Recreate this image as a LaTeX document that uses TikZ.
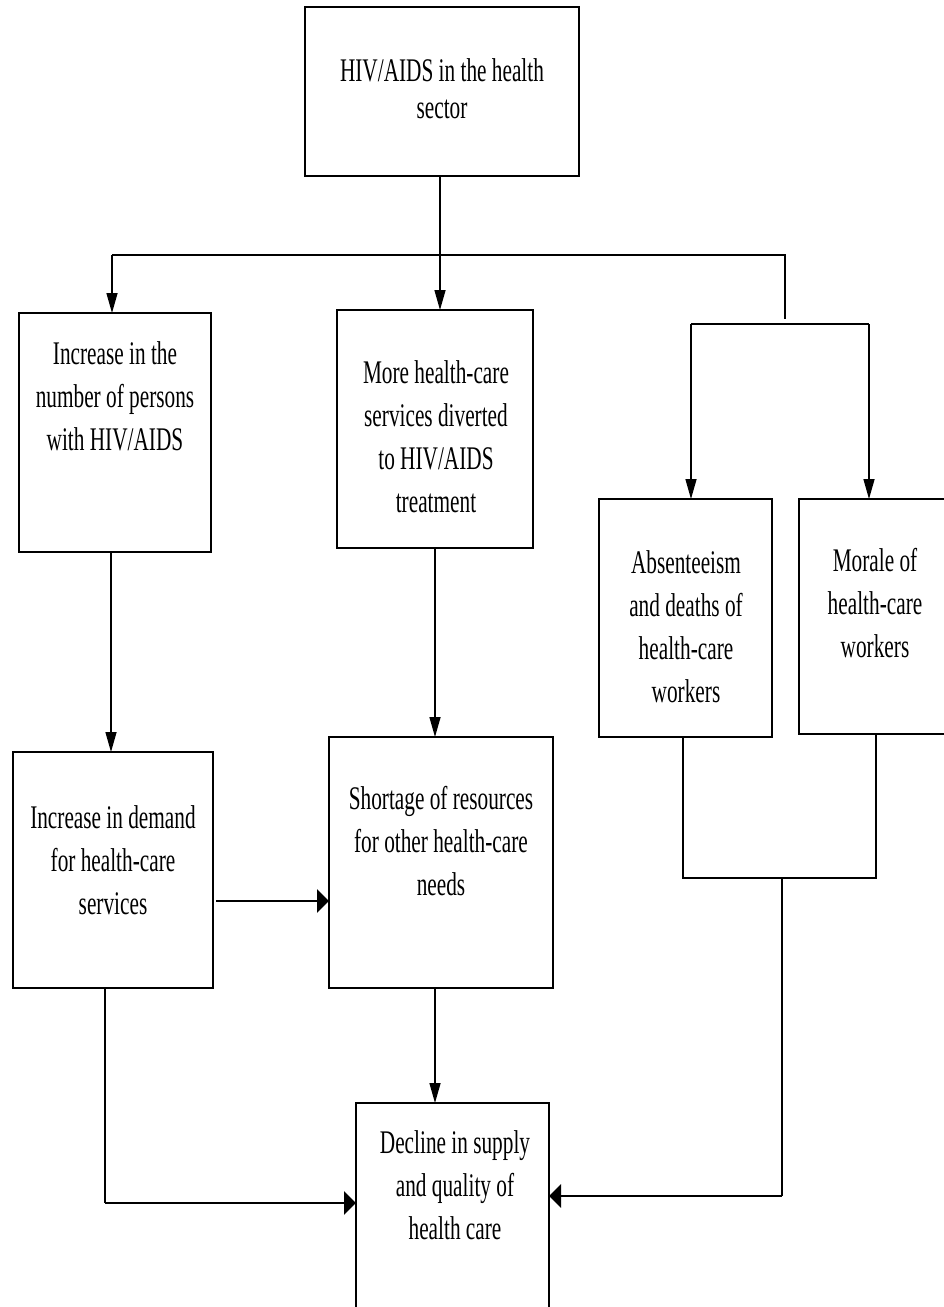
\documentclass[tikz,border=0pt]{standalone}
\usepackage{fontspec}
\setmainfont{Liberation Serif}[FakeStretch=0.645]
\usetikzlibrary{arrows.meta}
\begin{document}
\begin{tikzpicture}[x=1pt,y=-1pt,
  box/.style={draw=black,line width=1.6pt,rectangle,inner sep=0pt,outer sep=0pt},
  lbl/.style={align=center,inner sep=0pt,font=\fontsize{33}{43}\selectfont},
  thin/.style={draw=black,line width=1.5pt},
  varr/.style={thin,-{Triangle[length=20pt,width=11pt]}},
  harr/.style={draw=black,line width=2.8pt,-{Triangle[length=12pt,width=23pt]}}]
\useasboundingbox[fill=white] (0,0) rectangle (944,1307);
% boxes
\node[box,minimum width=274pt,minimum height=169pt] (top) at (442,91.5) {};
\node[box,minimum width=192pt,minimum height=239pt] (b1) at (115,432.5) {};
\node[box,minimum width=196pt,minimum height=238pt] (b2) at (435,429) {};
\node[box,minimum width=173pt,minimum height=238pt] (b3) at (685.5,618) {};
\node[box,minimum width=154pt,minimum height=235pt] (b4) at (876,616.5) {};
\node[box,minimum width=200pt,minimum height=236pt] (b5) at (113,870) {};
\node[box,minimum width=224pt,minimum height=251pt] (b6) at (441,862.5) {};
\node[box,minimum width=193pt,minimum height=217pt] (b7) at (452.5,1211.5) {};
% texts
\node[lbl,font=\fontsize{33}{37}\selectfont] (t0) at (442,88.5) {HIV/AIDS in the health\\sector};
\node[lbl] (t1) at (115,396.5) {Increase in the\\number of persons\\with HIV/AIDS};
\node[lbl] (t2) at (436,437) {More health-care\\services diverted\\to HIV/AIDS\\treatment};
\node[lbl] (t3) at (686,626.5) {Absenteeism\\and deaths of\\health-care\\workers};
\node[lbl] (t4) at (875,603.5) {Morale of\\health-care\\workers};
\node[lbl] (t5) at (113,860) {Increase in demand\\for health-care\\services};
\node[lbl] (t6) at (441,841.5) {Shortage of resources\\for other health-care\\needs};
\node[lbl] (t7) at (455,1185.5) {Decline in supply\\and quality of\\health care};
% coordinates
\coordinate (hC) at (440,255);
\coordinate (hL) at (112,255);
\coordinate (hR) at (785,255);
\coordinate (hRe) at (785,319);
\coordinate (h2L) at (691,324);
\coordinate (h2R) at (869,324);
\coordinate (jL) at (683,878);
\coordinate (jR) at (876,878);
\coordinate (jM) at (782,878);
\coordinate (jMd) at (782,1196);
\coordinate (lb) at (105,1203);
\coordinate (m) at (216,901);
% connectors
\draw[thin] (hC |- top.south) -- (hC);
\draw[thin] (hL) -- (hR) -- (hRe);
\draw[varr] (hL) -- (hL |- b1.north);
\draw[varr] (hC) -- (hC |- b2.north);
\draw[thin] (h2L) -- (h2R);
\draw[varr] (h2L) -- (h2L |- b3.north);
\draw[varr] (h2R) -- (h2R |- b4.north);
\draw[varr] ([xshift=-4pt]b1.south) -- ([xshift=-4pt]b1.south |- b5.north);
\draw[varr] (b2.south) -- (b2.south |- b6.north);
\draw[harr] (m) -- (m -| b6.west);
\draw[thin] (jL |- b3.south) -- (jL) -- (jR) -- (jR |- b4.south);
\draw[thin] (jM) -- (jMd);
\draw[harr] (jMd) -- (jMd -| b7.east);
\draw[thin] (lb |- b5.south) -- (lb);
\draw[harr] (lb) -- (lb -| b7.west);
\draw[varr] ([xshift=-6pt]b6.south) -- ([xshift=-6pt]b6.south |- b7.north);
\end{tikzpicture}
\end{document}
